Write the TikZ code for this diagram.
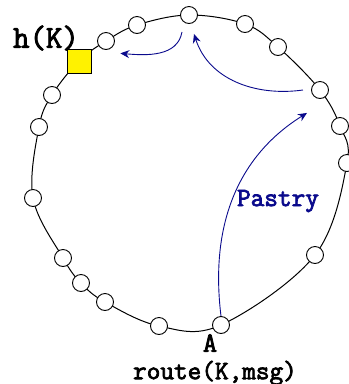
\documentclass[tikz,border=0pt]{standalone}
\usepackage{fontspec}
\newfontfamily\codefont{Latin Modern Mono}[FakeBold=2.8]
\usetikzlibrary{arrows.meta, backgrounds, positioning}
\definecolor{pastryblue}{RGB}{10,10,140}

\begin{document}
\begin{tikzpicture}[
  x=1pt, y=-1pt,
  peer/.style={draw, circle, fill=white, line width=0.9pt, minimum size=17pt, inner sep=0pt},
  keybox/.style={draw, fill=yellow, line width=0.9pt, minimum size=24pt, inner sep=0pt},
  ring/.style={line width=1pt},
  hop/.style={draw=pastryblue, line width=0.9pt, -{Stealth[length=9pt, width=8pt]}},
  lbl/.style={inner sep=0pt}
]
\useasboundingbox (0,0) rectangle (349,384);

\node[peer] (p0) at (189,15) {};
\node[peer] (p1) at (245,24) {};
\node[peer] (p2) at (278,47) {};
\node[peer] (p3) at (320,90) {};
\node[peer] (p4) at (340,126) {};
\node[peer] (p5) at (347,163) {};
\node[peer] (p6) at (315,255) {};
\node[peer] (a) at (221,325) {};
\node[peer] (p8) at (159,326) {};
\node[peer] (p9) at (105,302) {};
\node[peer] (p10) at (81,283) {};
\node[peer] (p11) at (63,258) {};
\node[peer] (p12) at (33,198) {};
\node[peer] (p13) at (39,127) {};
\node[peer] (p14) at (52,95) {};
\node[keybox] (key) at (79,61) {};
\node[peer] (p16) at (106,41) {};
\node[peer] (p17) at (137,25) {};

\begin{pgfonlayer}{background}
\draw[ring] plot[smooth cycle, tension=0.6] coordinates {(p0.center) (p1.center) (p2.center) (p3.center) (p4.center) (p5.center) (p6.center) (a.center) (p8.center) (p9.center) (p10.center) (p11.center) (p12.center) (p13.center) (p14.center) (key.center) (p16.center) (p17.center)};
\end{pgfonlayer}

\node[lbl, font=\fontsize{32}{32}\codefont] (hk) at (46,38) {h(K)};
\node[lbl, font=\fontsize{28}{28}\codefont] (aname) at (210,343) {A};
\node[lbl, font=\fontsize{26.5}{26.5}\codefont] (call) at (215,373) {route(K,msg)};
\node[lbl, font=\fontsize{26.5}{26.5}\codefont, text=pastryblue] (pastry) at (278,201) {Pastry};

% routing hops
\path[hop] (a.north) to[out=97, in=212] ([xshift=-13pt, yshift=-14pt]p3.south);
\path[hop] ([xshift=-17pt]p3.center) to[out=188, in=-72] ([xshift=5pt, yshift=-10pt]p0.south);
\path[hop] ([xshift=-7pt, yshift=-8pt]p0.south) to[out=-100, in=-5] ([xshift=8pt, yshift=-6pt]p16.south east);
\end{tikzpicture}
\end{document}
